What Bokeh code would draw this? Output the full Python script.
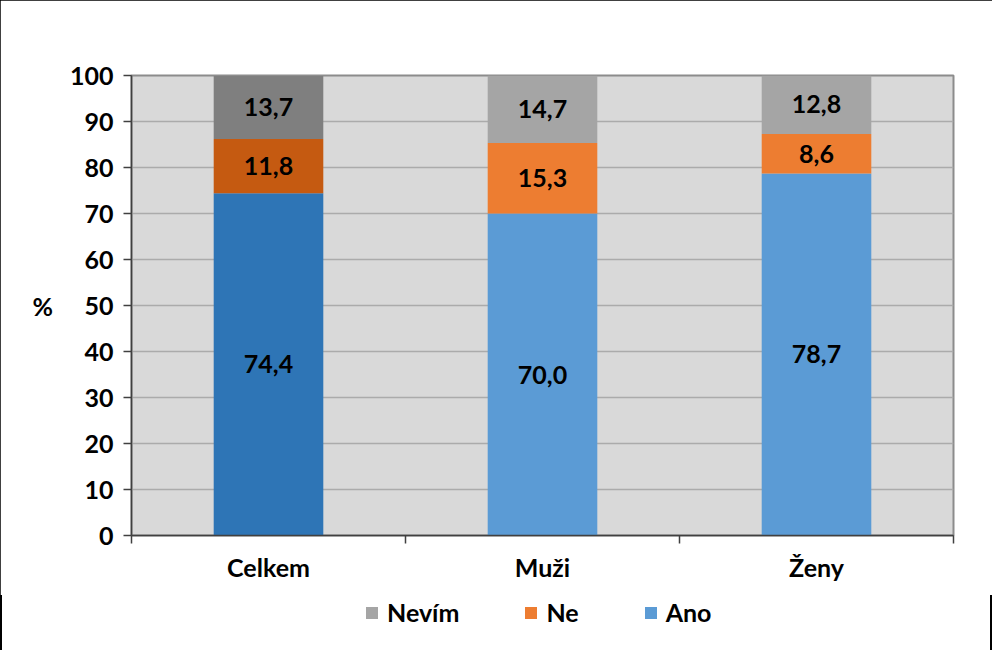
from bokeh.plotting import figure
from bokeh.layouts import column
from bokeh.models import ColumnDataSource, LinearAxis, FixedTicker, Range1d, Legend, LegendItem
from bokeh.embed import file_html
from bokeh.resources import INLINE
from bokeh.core.properties import value

categories = ["Celkem", "Muži", "Ženy"]
ano = [74.4, 70.0, 78.7]
ne = [11.8, 15.3, 8.6]
nevim = [13.7, 14.7, 12.8]
series_names = ["Ano", "Ne", "Nevím"]
legend_order = ["Nevím", "Ne", "Ano"]
y_ticks = [0, 10, 20, 30, 40, 50, 60, 70, 80, 90, 100]

colors_dark = {"Ano": "#2e75b6", "Ne": "#c55a11", "Nevím": "#7f7f7f"}
colors_light = {"Ano": "#5b9bd5", "Ne": "#ed7d31", "Nevím": "#a5a5a5"}

FONT = value("Lato")
FS = "25px"

p = figure(width=992, height=595, output_backend="svg", toolbar_location=None,
           x_range=Range1d(0, len(categories)), y_range=Range1d(0, 100),
           min_border_left=131, min_border_right=39, min_border_top=75, min_border_bottom=60,
           x_axis_type=None)
p.background_fill_color = "#d9d9d9"
p.border_fill_color = "white"
p.outline_line_color = "#8c8c8c"
p.outline_line_width = 2

# y axis
yax = p.yaxis[0]
yax.ticker = FixedTicker(ticks=y_ticks)
yax.minor_tick_line_color = None
yax.major_tick_in = 0
yax.major_tick_out = 8
yax.major_tick_line_color = "#404040"
yax.major_tick_line_width = 1.5
yax.axis_line_color = "#404040"
yax.axis_line_width = 1.5
yax.major_label_text_font = "Lato"
yax.major_label_text_font_style = "bold"
yax.major_label_text_font_size = FS
yax.major_label_text_color = "black"
yax.major_label_standoff = 10
yax.axis_label = "%"
yax.axis_label_orientation = "horizontal"
yax.axis_label_text_font = "Lato"
yax.axis_label_text_font_style = "bold"
yax.axis_label_text_font_size = FS
yax.axis_label_text_color = "black"
yax.axis_label_standoff = 14

p.ygrid.ticker = FixedTicker(ticks=y_ticks)
p.ygrid.grid_line_color = "#ababab"
p.ygrid.grid_line_width = 1.5
p.xgrid.grid_line_color = None

# x axis: labels at centres, tick marks at category boundaries (minor ticks)
centers = [i + 0.5 for i in range(len(categories))]
bounds = list(range(len(categories) + 1))
xl = LinearAxis(ticker=FixedTicker(ticks=centers, minor_ticks=bounds),
                major_label_overrides={c: n for c, n in zip(centers, categories)})
xl.axis_line_color = "#404040"
xl.axis_line_width = 1.5
xl.major_tick_line_color = None
xl.minor_tick_line_color = "#404040"
xl.minor_tick_line_width = 1.5
xl.minor_tick_in = 0
xl.minor_tick_out = 8
xl.major_tick_in = 0
xl.major_tick_out = 0
xl.major_label_standoff = 8
xl.major_label_text_font = "Lato"
xl.major_label_text_font_style = "bold"
xl.major_label_text_font_size = FS
xl.major_label_text_color = "black"
p.add_layout(xl, "below")

values = {"Ano": ano, "Ne": ne, "Nevím": nevim}
bottom = [0.0] * len(categories)
for name in series_names:
    vals = values[name]
    tops = [b + v for b, v in zip(bottom, vals)]
    cols = [colors_dark[name] if c == "Celkem" else colors_light[name] for c in categories]
    src = ColumnDataSource(dict(
        x=centers, bottom=bottom, top=tops,
        mid=[(b + t) / 2 for b, t in zip(bottom, tops)],
        color=cols,
        label=[f"{v:.1f}".replace(".", ",") for v in vals],
    ))
    p.vbar(x="x", bottom="bottom", top="top", width=0.4, source=src,
           fill_color="color", line_color=None)
    p.text(x="x", y="mid", text="label", source=src, text_align="center",
           text_baseline="middle", text_font=FONT, text_font_style="bold",
           text_font_size=FS, text_color="black")
    bottom = tops

# legend strip below the chart (proxy renderers of zero height carry the colours)
pl = figure(width=992, height=58, output_backend="svg", toolbar_location=None,
            x_axis_type=None, y_axis_type=None,
            x_range=Range1d(0, 1), y_range=Range1d(0, 1),
            min_border_left=0, min_border_right=0, min_border_top=0, min_border_bottom=0)
pl.outline_line_color = None
pl.background_fill_color = None
pl.border_fill_color = None
pl.grid.grid_line_color = None
items = []
for name in legend_order:
    proxy = ColumnDataSource(dict(x=[0.5], top=[0.0]))
    r = pl.vbar(x="x", top="top", bottom=0, width=0.0, source=proxy,
                fill_color=colors_light[name], line_color=None)
    items.append(LegendItem(label=name, renderers=[r]))
legend = Legend(items=items, orientation="horizontal", location=(233, 26))
legend.border_line_color = None
legend.background_fill_alpha = 0
legend.label_text_font = "Lato"
legend.label_text_font_style = "bold"
legend.label_text_font_size = "25px"
legend.label_text_color = "black"
legend.glyph_width = 15
legend.glyph_height = 15
legend.label_standoff = 8
legend.spacing = 64
legend.padding = 0
legend.margin = 0
pl.add_layout(legend, "center")

layout = column(p, pl, spacing=0)
layout.styles = {"outline": "2px solid black", "outline-offset": "-2px",
                 "background": "white", "clip-path": "inset(0px 0px 3px 0px)"}

open("out.html", "w").write(file_html(layout, INLINE))
